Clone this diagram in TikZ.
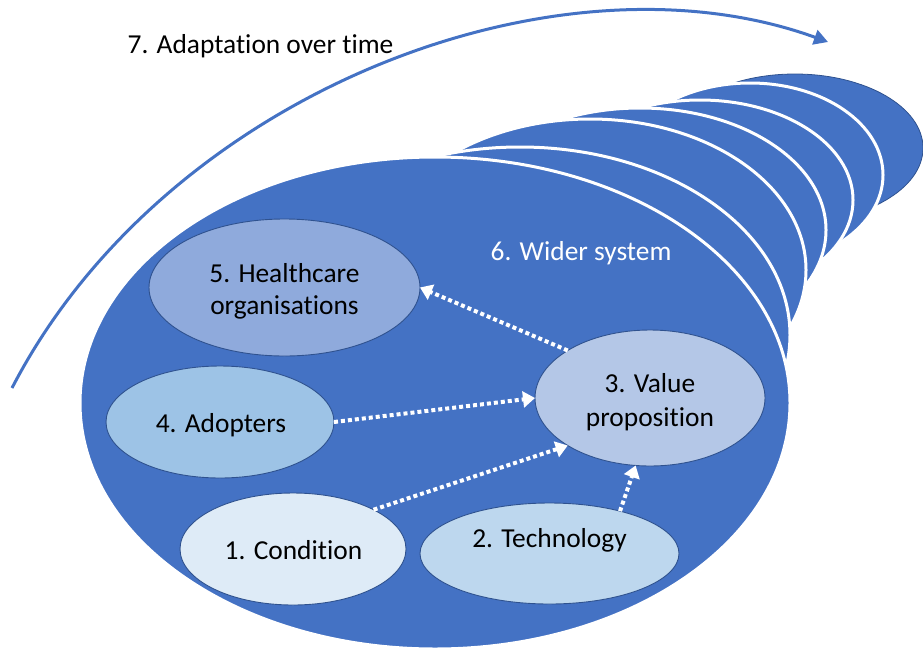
\documentclass[tikz,border=0pt]{standalone}
\usepackage{fontspec}
\setmainfont{Carlito}[RawFeature={-liga}]
\usetikzlibrary{shapes.geometric,arrows.meta}
\definecolor{mainblue}{HTML}{4472C4}
\definecolor{edgeblue}{HTML}{2F528F}
\definecolor{cfive}{HTML}{8FAADC}
\definecolor{cfour}{HTML}{9DC3E6}
\definecolor{cthree}{HTML}{B4C7E7}
\definecolor{cone}{HTML}{DEEBF7}
\definecolor{ctwo}{HTML}{BDD7EE}
\begin{document}
\begin{tikzpicture}[x=1pt,y=-1pt,
  layer/.style={fill=mainblue,draw=white,line width=3pt},
  inell/.style={ellipse,draw=edgeblue,line width=0.9pt,inner sep=0pt,outer sep=0pt},
  lbl/.style={anchor=base,inner sep=0pt,font=\fontsize{27.4pt}{33pt}\selectfont,text=black},
  dotarrow/.style={draw=white,line width=4pt,dash pattern=on 4pt off 3pt,-{Triangle[width=16pt,length=12pt]}},
  timearc/.style={draw=mainblue,line width=3pt,-{Triangle[width=15pt,length=14pt]}}]
\useasboundingbox (0,0) rectangle (923,651);
% stacked layers of the wider system (back to front)
\path[layer,draw=edgeblue,line width=0.8pt] (795,148) ellipse [x radius=128pt,y radius=74pt];
\path[layer] (750,175) ellipse [x radius=133pt,y radius=92pt];
\path[layer] (700,200) ellipse [x radius=153pt,y radius=100pt];
\path[layer] (640,230) ellipse [x radius=186pt,y radius=122pt];
\path[layer] (590,270) ellipse [x radius=216pt,y radius=151pt];
\path[layer] (520,335) ellipse [x radius=270pt,y radius=188pt];
\path[layer] (435,403) ellipse [x radius=355pt,y radius=246pt];
% adaptation arc
\coordinate (a0) at (12,388);
\coordinate (a1) at (828,42);
\draw[timearc] (a0) .. controls (164,94) and (555,-57) .. (a1);
\node[lbl] (t7) at (260.5,53) {7. Adaptation over time};
\node[lbl,text=white] (t6) at (581,260) {6. Wider system};
% inner ellipses
\node[inell,fill=cfive,minimum width=271pt,minimum height=137pt] (n5) at (284.5,287.5) {};
\node[inell,fill=cfour,minimum width=228pt,minimum height=112pt] (n4) at (220,422) {};
\node[inell,fill=cthree,minimum width=230pt,minimum height=136pt] (n3) at (650,398) {};
\node[inell,fill=cone,minimum width=226pt,minimum height=112pt] (n1) at (293,549) {};
\node[inell,fill=ctwo,minimum width=259pt,minimum height=101pt] (n2) at (549.5,553.5) {};
% labels
\node[lbl] (t5a) at (284.5,282) {5. Healthcare};
\node[lbl] (t5b) at (284.5,314) {organisations};
\node[lbl] (t4) at (221,432) {4. Adopters};
\node[lbl] (t3a) at (650,392) {3. Value};
\node[lbl] (t3b) at (650,426) {proposition};
\node[lbl] (t1) at (293.5,559) {1. Condition};
\node[lbl] (t2) at (549.5,547) {2. Technology};
% connectors
\draw[dotarrow] (n3.150) -- (n5.0);
\draw[dotarrow] (n4.0) -- (n3.180);
\draw[dotarrow] (n1.26) -- (n3.210);
\draw[dotarrow] (n2.31) -- (n3.258);
\end{tikzpicture}
\end{document}
